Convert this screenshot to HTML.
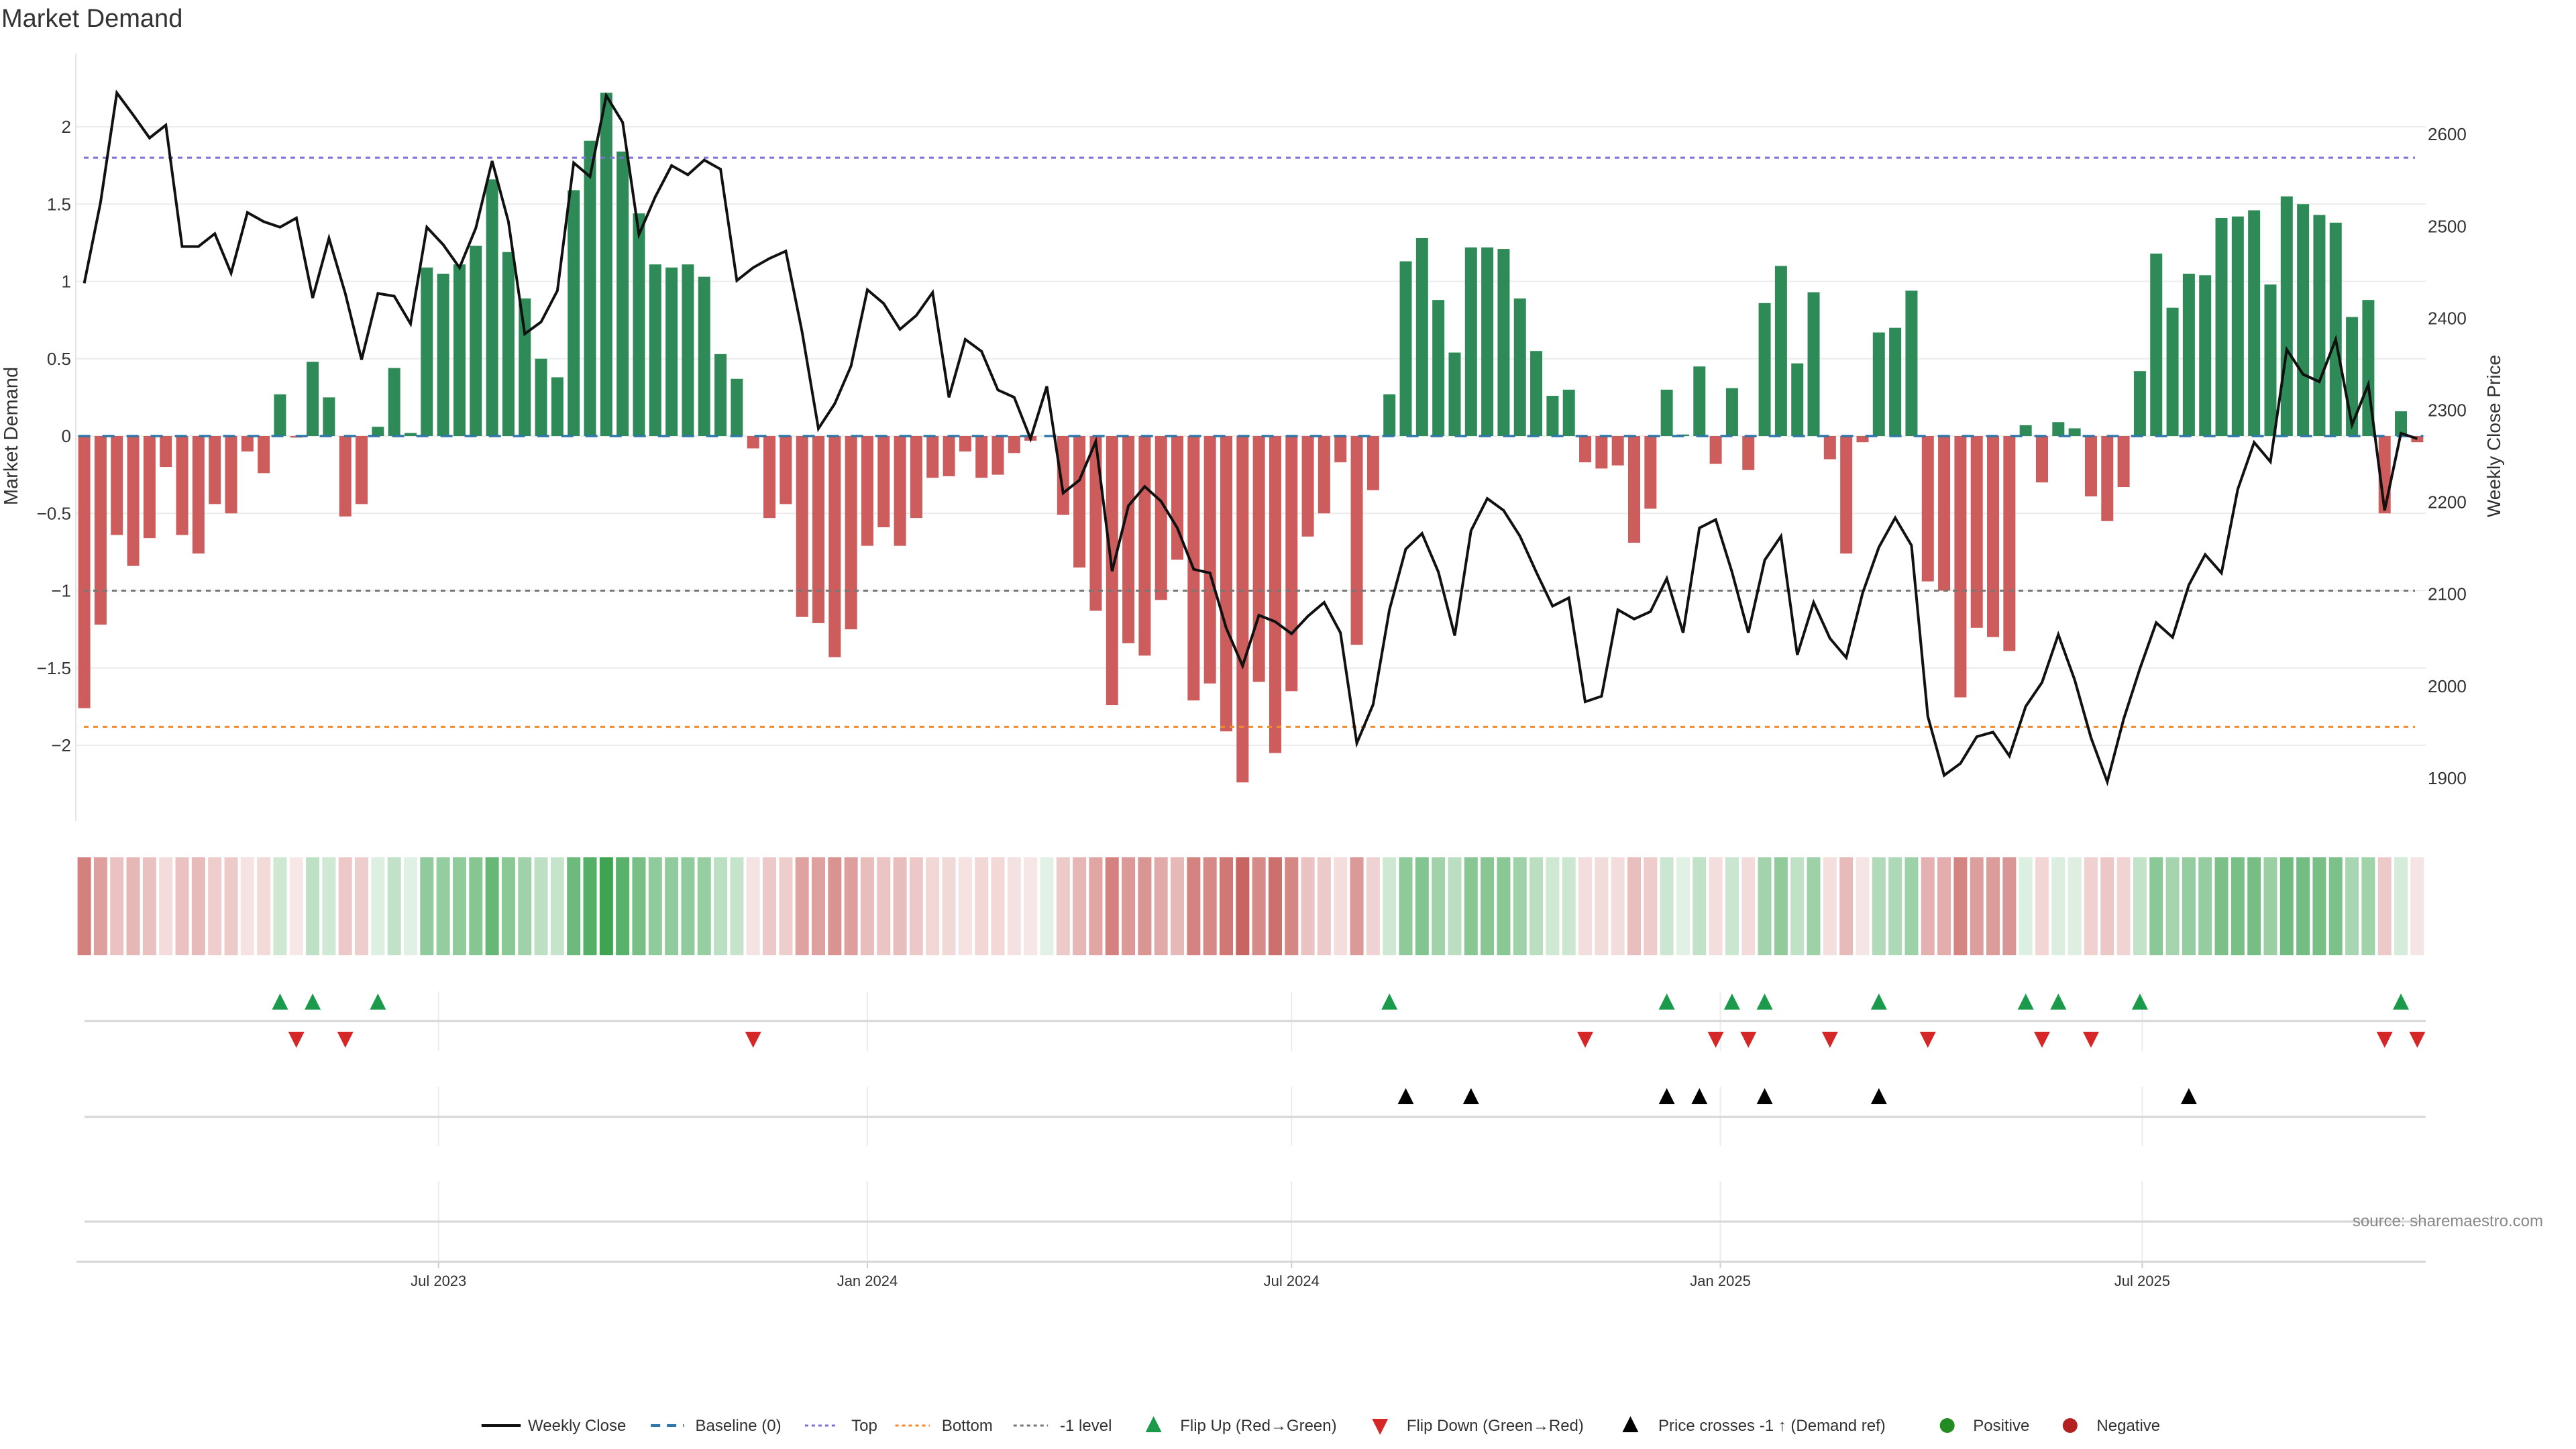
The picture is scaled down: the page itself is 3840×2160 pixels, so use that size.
<!DOCTYPE html>
<html><head><meta charset="utf-8"><style>
html,body{margin:0;padding:0;background:#fff;}
svg{display:block;font-family:"Liberation Sans",sans-serif;}
</style></head><body>
<svg id="chart" width="3840" height="2160" viewBox="0 0 3840 2160" xmlns="http://www.w3.org/2000/svg">
<text x="2" y="40" font-size="38" fill="#333">Market Demand</text>
<g id="grid"></g><g id="refs"></g><g id="bars"></g><g id="priceg"></g><g id="axes"></g>
<g id="heat"></g><g id="panels"></g><g id="legend"></g>
<text x="3791" y="1828" font-size="24" fill="#888" text-anchor="end">source: sharemaestro.com</text>
</svg>
<script>
const demand = [-1.76,-1.22,-0.64,-0.84,-0.66,-0.20,-0.64,-0.76,-0.44,-0.50,-0.10,-0.24,0.27,-0.01,0.48,0.25,-0.52,-0.44,0.06,0.44,0.02,1.09,1.05,1.11,1.23,1.66,1.19,0.89,0.50,0.38,1.59,1.91,2.22,1.84,1.44,1.11,1.09,1.11,1.03,0.53,0.37,-0.08,-0.53,-0.44,-1.17,-1.21,-1.43,-1.25,-0.71,-0.59,-0.71,-0.53,-0.27,-0.26,-0.10,-0.27,-0.25,-0.11,-0.03,0,-0.51,-0.85,-1.13,-1.74,-1.34,-1.42,-1.06,-0.80,-1.71,-1.60,-1.91,-2.24,-1.59,-2.05,-1.65,-0.65,-0.50,-0.17,-1.35,-0.35,0.27,1.13,1.28,0.88,0.54,1.22,1.22,1.21,0.89,0.55,0.26,0.30,-0.17,-0.21,-0.19,-0.69,-0.47,0.30,0.01,0.45,-0.18,0.31,-0.22,0.86,1.10,0.47,0.93,-0.15,-0.76,-0.04,0.67,0.70,0.94,-0.94,-1.00,-1.69,-1.24,-1.30,-1.39,0.07,-0.30,0.09,0.05,-0.39,-0.55,-0.33,0.42,1.18,0.83,1.05,1.04,1.41,1.42,1.46,0.98,1.55,1.50,1.43,1.38,0.77,0.88,-0.50,0.16,-0.04];
const price = [2438,2526,2645,2621,2596,2610,2478,2478,2492,2449,2515,2505,2499,2509,2422,2487,2427,2355,2427,2424,2394,2499,2480,2455,2498,2571,2505,2383,2396,2430,2569,2554,2642,2613,2491,2532,2566,2556,2572,2562,2441,2455,2465,2473,2385,2280,2307,2348,2431,2416,2388,2403,2428,2314,2377,2364,2322,2314,2269,2326,2210,2224,2266,2125,2196,2217,2201,2172,2127,2123,2063,2022,2077,2070,2057,2076,2091,2058,1938,1980,2083,2149,2166,2124,2055,2169,2204,2191,2163,2124,2087,2096,1983,1989,2083,2073,2081,2117,2058,2172,2181,2124,2058,2137,2163,2034,2091,2052,2031,2101,2151,2183,2153,1967,1903,1916,1945,1950,1924,1978,2004,2056,2007,1944,1896,1964,2019,2069,2053,2110,2143,2123,2214,2265,2244,2366,2339,2331,2377,2284,2328,2191,2275,2269];
const leftTicks = [-2,-1.5,-1,-0.5,0,0.5,1,1.5,2];
const leftTickLabels = ["\u22122","\u22121.5","\u22121","\u22120.5","0","0.5","1","1.5","2"];
const rightTicks = [1900,2000,2100,2200,2300,2400,2500,2600];
const topLevel = [1.80];
const bottomLevel = [-1.88];
const minusLevel = [-1];
const dateTicks = ["2023-07-01","2024-01-01","2024-07-01","2025-01-01","2025-07-01"];
const dateTickLabels = ["Jul 2023","Jan 2024","Jul 2024","Jan 2025","Jul 2025"];
const startDate = "2023-01-30";

const NS="http://www.w3.org/2000/svg";
function mk(tag,attrs,parent,text){const e=document.createElementNS(NS,tag);for(const k in attrs)e.setAttribute(k,attrs[k]);if(text!==undefined)e.textContent=text;parent.appendChild(e);return e;}
const PL=113, PR=3616, PT=80, PB=1224;
const xMain = i => 125.6 + 24.32*i;
const xSub = xMain;
const yL = v => 650 - 230.5*v;
const yR = p => 611.5 - (p-2300)*1.371;
const pFromL = v => 2300 - (yL(v)-611.5)/1.371;
const dayIdx = d => (new Date(d) - new Date(startDate))/86400000/7;

const grid=document.getElementById('grid'), refs=document.getElementById('refs'), barsG=document.getElementById('bars'), pg=document.getElementById('priceg'), axes=document.getElementById('axes');
leftTicks.forEach((t,k)=>{
  const gl=mk('line',{x1:PL,x2:PR,y1:yL(t),y2:yL(t),stroke:'#ececec','stroke-width':2},grid);
  
  
  const tl=mk('text',{x:106,y:yL(t)+9,'font-size':26,fill:'#333','text-anchor':'end'},axes,leftTickLabels[k]);
  
  
});
rightTicks.forEach(t=>{
  const tl=mk('text',{x:3619,y:yR(t)+9,'font-size':26,fill:'#333'},axes,String(t));
  
  
});
const al=mk('line',{x1:PL,x2:PL,y1:PT,y2:PB,stroke:'#e4e4e4','stroke-width':2},axes);


const yt=mk('text',{transform:'translate(26,650) rotate(-90)','font-size':29,fill:'#333','text-anchor':'middle'},axes,'Market Demand');


const yt2=mk('text',{transform:'translate(3727,650) rotate(-90)','font-size':28,fill:'#333','text-anchor':'middle'},axes,'Weekly Close Price');



function refLine(v,color,name){
  const l=mk('line',{x1:125,x2:3600,y1:yL(v),y2:yL(v),stroke:color,'stroke-width':3,'stroke-dasharray':'7 7'},refs);
  
  
}
refLine(topLevel[0],'#7f6fd8','top-level-line');
refLine(bottomLevel[0],'#f28a2e','bottom-level-line');
refLine(minusLevel[0],'#777','minus-one-level-line');

demand.forEach((v,i)=>{
  const y0=yL(0), y1=yL(v);
  const r=mk('rect',{x:xMain(i)-9,width:18,y:Math.min(y0,y1),height:Math.max(Math.abs(y1-y0),0.01),fill:v>=0?'#2e8b57':'#cd5c5c'},barsG);
  
  
});
const bl=mk('line',{x1:xMain(0)-9,x2:xMain(demand.length-1)+9,y1:yL(0),y2:yL(0),stroke:'#2f77a8','stroke-width':3.5,'stroke-dasharray':'18 18'},refs);


refs.parentNode.insertBefore(barsG,refs);

const pts=price.map((p,i)=>xMain(i).toFixed(1)+','+yR(p).toFixed(1)).join(' ');
const pl=mk('polyline',{points:pts,fill:'none',stroke:'#111','stroke-width':4,'stroke-linejoin':'miter'},pg);



// heatmap strip
const heat=document.getElementById('heat');
function heatColor(v){
  const t=Math.min(1,0.15+0.85*Math.abs(v)/2.25);
  const c=v>=0?[60,163,80]:[200,100,97];
  return 'rgb('+c.map(x=>Math.round(255-(255-x)*t)).join(',')+')';
}
demand.forEach((v,i)=>{
  const r=mk('rect',{x:xSub(i)-10,width:20,y:1278,height:146,fill:heatColor(v)},heat);
  
  
});

// marker panels
const pan=document.getElementById('panels');
dateTicks.forEach((d,k)=>{
  const x=xSub(dayIdx(d));
  [[1478,1567],[1620,1708],[1761,1881]].forEach(s=>{
    const g=mk('line',{x1:x,x2:x,y1:s[0],y2:s[1],stroke:'#ececec','stroke-width':2},pan);
    
    
  });
  const tk=mk('line',{x1:x,x2:x,y1:1881,y2:1890,stroke:'#ccc','stroke-width':2},pan);
  
  
  const tl=mk('text',{x:x,y:1917,'font-size':22,fill:'#333','text-anchor':'middle'},pan,dateTickLabels[k]);
  
  
});
[1522,1665,1821].forEach(y=>{
  const l=mk('line',{x1:126,x2:3616,y1:y,y2:y,stroke:'#d6d6d6','stroke-width':3},pan);
  
  
});
const xa=mk('line',{x1:114,x2:3616,y1:1881,y2:1881,stroke:'#d6d6d6','stroke-width':3},pan);



function tri(x,y,up,color,parent){
  const p=up?`${x-12},${y+12} ${x+12},${y+12} ${x},${y-12}`:`${x-12},${y-12} ${x+12},${y-12} ${x},${y+12}`;
  return mk('polygon',{points:p,fill:color},parent);
}
const thr=pFromL(minusLevel[0]);
for(let i=1;i<demand.length;i++){
  if(demand[i-1]<0&&demand[i]>0){
    const m=tri(xSub(i),1493,true,'#1a9a4a',pan);
    
    
  }
  if(demand[i-1]>0&&demand[i]<0){
    const m=tri(xSub(i),1550,false,'#d62728',pan);
    
    
  }
  if(price[i-1]<thr&&price[i]>=thr){
    const m=tri(xSub(i),1634,true,'#000',pan);
    
    
  }
}

// legend
const lg=document.getElementById('legend');
const LY=2125;
const S=0.99;
function ltext(x,s,name){const t=mk('text',{x:x*S,y:LY+8,'font-size':24,fill:'#333'},lg,s);}
let e;
e=mk('line',{x1:725*S,x2:784*S,y1:LY,y2:LY,stroke:'#111','stroke-width':4},lg);
ltext(795,'Weekly Close','legend-weekly-close');
e=mk('line',{x1:980*S,x2:1030*S,y1:LY,y2:LY,stroke:'#2f77a8','stroke-width':4,'stroke-dasharray':'14 10'},lg);
ltext(1047,'Baseline (0)','legend-baseline');
e=mk('line',{x1:1212*S,x2:1262*S,y1:LY,y2:LY,stroke:'#7f6fd8','stroke-width':3,'stroke-dasharray':'5 5'},lg);
ltext(1282,'Top','legend-top');
e=mk('line',{x1:1348*S,x2:1400*S,y1:LY,y2:LY,stroke:'#f28a2e','stroke-width':3,'stroke-dasharray':'5 5'},lg);
ltext(1418,'Bottom','legend-bottom');
e=mk('line',{x1:1526*S,x2:1578*S,y1:LY,y2:LY,stroke:'#777','stroke-width':3,'stroke-dasharray':'5 5'},lg);
ltext(1596,'-1 level','legend-minus-one');
e=tri(1737*S,LY-2,true,'#1a9a4a',lg);
ltext(1777,'Flip Up (Red\u2192Green)','legend-flip-up');
e=tri(2078*S,LY+2,false,'#d62728',lg);
ltext(2118,'Flip Down (Green\u2192Red)','legend-flip-down');
e=tri(2455*S,LY-2,true,'#000',lg);
ltext(2497,'Price crosses -1 \u2191 (Demand ref)','legend-price-cross');
e=mk('circle',{cx:2932*S,cy:LY,r:11,fill:'#228b22'},lg);
ltext(2971,'Positive','legend-positive');
e=mk('circle',{cx:3117*S,cy:LY,r:11,fill:'#b22222'},lg);
ltext(3157,'Negative','legend-negative');
</script>
</body></html>
